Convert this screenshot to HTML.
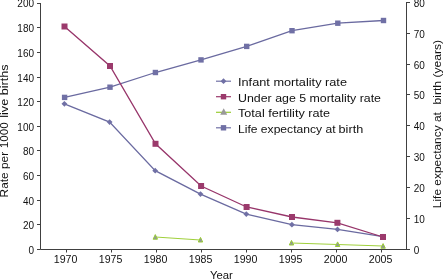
<!DOCTYPE html>
<html><head><meta charset="utf-8"><style>
html,body{margin:0;padding:0;background:#fff;width:443px;height:280px;overflow:hidden}
svg{display:block;will-change:transform}
.t{font-family:"Liberation Sans",sans-serif;font-size:10px;fill:#111111}
.l{font-family:"Liberation Sans",sans-serif;font-size:11px;fill:#111111}
</style></head><body>
<svg width="443" height="280" viewBox="0 0 443 280">
<path d="M40.5 3V249.5H407M406.5 2V249.5" fill="none" stroke="#404040" stroke-width="1"/>
<path d="M37 249.50H40.5" stroke="#404040" stroke-width="1"/>
<text x="34" y="254.30" text-anchor="end" class="t" textLength="5.55" lengthAdjust="spacingAndGlyphs">0</text>
<path d="M37 224.50H40.5" stroke="#404040" stroke-width="1"/>
<text x="34" y="229.30" text-anchor="end" class="t" textLength="11.10" lengthAdjust="spacingAndGlyphs">20</text>
<path d="M37 200.50H40.5" stroke="#404040" stroke-width="1"/>
<text x="34" y="205.30" text-anchor="end" class="t" textLength="11.10" lengthAdjust="spacingAndGlyphs">40</text>
<path d="M37 175.50H40.5" stroke="#404040" stroke-width="1"/>
<text x="34" y="180.30" text-anchor="end" class="t" textLength="11.10" lengthAdjust="spacingAndGlyphs">60</text>
<path d="M37 150.50H40.5" stroke="#404040" stroke-width="1"/>
<text x="34" y="155.30" text-anchor="end" class="t" textLength="11.10" lengthAdjust="spacingAndGlyphs">80</text>
<path d="M37 126.50H40.5" stroke="#404040" stroke-width="1"/>
<text x="34" y="131.30" text-anchor="end" class="t" textLength="16.65" lengthAdjust="spacingAndGlyphs">100</text>
<path d="M37 101.50H40.5" stroke="#404040" stroke-width="1"/>
<text x="34" y="106.30" text-anchor="end" class="t" textLength="16.65" lengthAdjust="spacingAndGlyphs">120</text>
<path d="M37 77.50H40.5" stroke="#404040" stroke-width="1"/>
<text x="34" y="82.30" text-anchor="end" class="t" textLength="16.65" lengthAdjust="spacingAndGlyphs">140</text>
<path d="M37 52.50H40.5" stroke="#404040" stroke-width="1"/>
<text x="34" y="57.30" text-anchor="end" class="t" textLength="16.65" lengthAdjust="spacingAndGlyphs">160</text>
<path d="M37 27.50H40.5" stroke="#404040" stroke-width="1"/>
<text x="34" y="32.30" text-anchor="end" class="t" textLength="16.65" lengthAdjust="spacingAndGlyphs">180</text>
<path d="M37 3.50H40.5" stroke="#404040" stroke-width="1"/>
<text x="34" y="7.00" text-anchor="end" class="t" textLength="16.65" lengthAdjust="spacingAndGlyphs">200</text>
<path d="M406.5 249.50H410" stroke="#404040" stroke-width="1"/>
<text x="413.8" y="254.10" class="t" textLength="5.55" lengthAdjust="spacingAndGlyphs">0</text>
<path d="M406.5 218.50H410" stroke="#404040" stroke-width="1"/>
<text x="413.8" y="223.10" class="t" textLength="11.10" lengthAdjust="spacingAndGlyphs">10</text>
<path d="M406.5 187.50H410" stroke="#404040" stroke-width="1"/>
<text x="413.8" y="192.10" class="t" textLength="11.10" lengthAdjust="spacingAndGlyphs">20</text>
<path d="M406.5 156.50H410" stroke="#404040" stroke-width="1"/>
<text x="413.8" y="161.10" class="t" textLength="11.10" lengthAdjust="spacingAndGlyphs">30</text>
<path d="M406.5 125.50H410" stroke="#404040" stroke-width="1"/>
<text x="413.8" y="130.10" class="t" textLength="11.10" lengthAdjust="spacingAndGlyphs">40</text>
<path d="M406.5 94.50H410" stroke="#404040" stroke-width="1"/>
<text x="413.8" y="99.10" class="t" textLength="11.10" lengthAdjust="spacingAndGlyphs">50</text>
<path d="M406.5 64.50H410" stroke="#404040" stroke-width="1"/>
<text x="413.8" y="69.10" class="t" textLength="11.10" lengthAdjust="spacingAndGlyphs">60</text>
<path d="M406.5 33.50H410" stroke="#404040" stroke-width="1"/>
<text x="413.8" y="38.10" class="t" textLength="11.10" lengthAdjust="spacingAndGlyphs">70</text>
<path d="M406.5 2.50H410" stroke="#404040" stroke-width="1"/>
<text x="413.8" y="7.10" class="t" textLength="11.10" lengthAdjust="spacingAndGlyphs">80</text>
<path d="M66.50 249.5V252.5" stroke="#404040" stroke-width="1"/>
<text x="65.60" y="262.8" text-anchor="middle" class="t" textLength="23.6" lengthAdjust="spacingAndGlyphs">1970</text>
<path d="M111.50 249.5V252.5" stroke="#404040" stroke-width="1"/>
<text x="110.60" y="262.8" text-anchor="middle" class="t" textLength="23.6" lengthAdjust="spacingAndGlyphs">1975</text>
<path d="M156.50 249.5V252.5" stroke="#404040" stroke-width="1"/>
<text x="155.60" y="262.8" text-anchor="middle" class="t" textLength="23.6" lengthAdjust="spacingAndGlyphs">1980</text>
<path d="M201.50 249.5V252.5" stroke="#404040" stroke-width="1"/>
<text x="200.60" y="262.8" text-anchor="middle" class="t" textLength="23.6" lengthAdjust="spacingAndGlyphs">1985</text>
<path d="M246.50 249.5V252.5" stroke="#404040" stroke-width="1"/>
<text x="245.60" y="262.8" text-anchor="middle" class="t" textLength="23.6" lengthAdjust="spacingAndGlyphs">1990</text>
<path d="M291.50 249.5V252.5" stroke="#404040" stroke-width="1"/>
<text x="290.60" y="262.8" text-anchor="middle" class="t" textLength="23.6" lengthAdjust="spacingAndGlyphs">1995</text>
<path d="M336.50 249.5V252.5" stroke="#404040" stroke-width="1"/>
<text x="335.60" y="262.8" text-anchor="middle" class="t" textLength="23.6" lengthAdjust="spacingAndGlyphs">2000</text>
<path d="M381.50 249.5V252.5" stroke="#404040" stroke-width="1"/>
<text x="380.60" y="262.8" text-anchor="middle" class="t" textLength="23.6" lengthAdjust="spacingAndGlyphs">2005</text>
<polyline points="64.6,97.4 110,87.2 155.4,72.5 201,59.9 246.7,46.4 292,30.7 337.8,23.2 383.5,20.5" fill="none" stroke="#6a6aa0" stroke-width="1.3"/>
<polyline points="64.4,103.8 109.6,122.1 155.2,170.7 200.5,194.1 246.3,214.1 291.9,224.7 337.5,229.4 383,236.6" fill="none" stroke="#6a6aa0" stroke-width="1.3"/>
<polyline points="64.5,26.5 110,66 155.5,143.8 201.1,186 246.6,207 292,217 337.4,222.8 383,237" fill="none" stroke="#97356a" stroke-width="1.3"/>
<polyline points="155.3,237.1 200.5,239.9" fill="none" stroke="#a0d03c" stroke-width="1.05"/>
<polyline points="291.5,242.9 337.6,244.4 383.1,246.1" fill="none" stroke="#a0d03c" stroke-width="1.05"/>
<rect x="61.90" y="94.70" width="5.4" height="5.4" fill="#7070a5"/>
<rect x="107.30" y="84.50" width="5.4" height="5.4" fill="#7070a5"/>
<rect x="152.70" y="69.80" width="5.4" height="5.4" fill="#7070a5"/>
<rect x="198.30" y="57.20" width="5.4" height="5.4" fill="#7070a5"/>
<rect x="244.00" y="43.70" width="5.4" height="5.4" fill="#7070a5"/>
<rect x="289.30" y="28.00" width="5.4" height="5.4" fill="#7070a5"/>
<rect x="335.10" y="20.50" width="5.4" height="5.4" fill="#7070a5"/>
<rect x="380.80" y="17.80" width="5.4" height="5.4" fill="#7070a5"/>
<path d="M64.4 100.89999999999999L67.30000000000001 103.8L64.4 106.7L61.50000000000001 103.8Z" fill="#7070a5"/>
<path d="M109.6 119.19999999999999L112.5 122.1L109.6 125.0L106.69999999999999 122.1Z" fill="#7070a5"/>
<path d="M155.2 167.79999999999998L158.1 170.7L155.2 173.6L152.29999999999998 170.7Z" fill="#7070a5"/>
<path d="M200.5 191.2L203.4 194.1L200.5 197.0L197.6 194.1Z" fill="#7070a5"/>
<path d="M246.3 211.2L249.20000000000002 214.1L246.3 217.0L243.4 214.1Z" fill="#7070a5"/>
<path d="M291.9 221.79999999999998L294.79999999999995 224.7L291.9 227.6L289.0 224.7Z" fill="#7070a5"/>
<path d="M337.5 226.5L340.4 229.4L337.5 232.3L334.6 229.4Z" fill="#7070a5"/>
<path d="M383 233.7L385.9 236.6L383 239.5L380.1 236.6Z" fill="#7070a5"/>
<rect x="61.50" y="23.50" width="6" height="6" fill="#9b3a6c"/>
<rect x="107.00" y="63.00" width="6" height="6" fill="#9b3a6c"/>
<rect x="152.50" y="140.80" width="6" height="6" fill="#9b3a6c"/>
<rect x="198.10" y="183.00" width="6" height="6" fill="#9b3a6c"/>
<rect x="243.60" y="204.00" width="6" height="6" fill="#9b3a6c"/>
<rect x="289.00" y="214.00" width="6" height="6" fill="#9b3a6c"/>
<rect x="334.40" y="219.80" width="6" height="6" fill="#9b3a6c"/>
<rect x="380.00" y="234.00" width="6" height="6" fill="#9b3a6c"/>
<path d="M155.3 234.6L157.5 239.2L153.10000000000002 239.2Z" fill="#9090a8" stroke="#99cc33" stroke-width="1.0" stroke-linejoin="miter"/>
<path d="M200.5 237.4L202.7 242.0L198.3 242.0Z" fill="#9090a8" stroke="#99cc33" stroke-width="1.0" stroke-linejoin="miter"/>
<path d="M291.5 240.4L293.7 245.0L289.3 245.0Z" fill="#9090a8" stroke="#99cc33" stroke-width="1.0" stroke-linejoin="miter"/>
<path d="M337.6 241.9L339.8 246.5L335.40000000000003 246.5Z" fill="#9090a8" stroke="#99cc33" stroke-width="1.0" stroke-linejoin="miter"/>
<path d="M383.1 243.6L385.3 248.2L380.90000000000003 248.2Z" fill="#9090a8" stroke="#99cc33" stroke-width="1.0" stroke-linejoin="miter"/>
<path d="M216 81.19999999999999H231" stroke="#7070a5" stroke-width="1.2"/>
<path d="M223.5 78.29999999999998L226.4 81.19999999999999L223.5 84.1L220.6 81.19999999999999Z" fill="#7070a5"/>
<text x="238" y="86.0" class="l" textLength="109" lengthAdjust="spacingAndGlyphs">Infant mortality rate</text>
<path d="M216 96.69999999999999H231" stroke="#9b3a6c" stroke-width="1.2"/>
<rect x="220.80" y="94.00" width="5.4" height="5.4" fill="#9b3a6c"/>
<text x="238" y="101.5" class="l" textLength="143" lengthAdjust="spacingAndGlyphs">Under age 5 mortality rate</text>
<path d="M216 112.3H231" stroke="#99cc33" stroke-width="1.2"/>
<path d="M223.7 108.3L227.2 114.8L220.2 114.8Z" fill="#999999"/>
<text x="238" y="117.10000000000001" class="l" textLength="92" lengthAdjust="spacingAndGlyphs">Total fertility rate</text>
<path d="M216 127.79999999999998H231" stroke="#7070a5" stroke-width="1.2"/>
<rect x="220.80" y="125.10" width="5.4" height="5.4" fill="#7070a5"/>
<text x="238" y="132.6" class="l" textLength="97.5" lengthAdjust="spacingAndGlyphs">Life expectancy at</text>
<text x="338.6" y="132.6" class="l" textLength="24.6" lengthAdjust="spacingAndGlyphs">birth</text>
<text transform="translate(8.0 174.65) rotate(-90)" text-anchor="middle" class="l" textLength="45.5" lengthAdjust="spacingAndGlyphs">Rate per</text>
<text transform="translate(8.0 135.3) rotate(-90)" text-anchor="middle" class="l" textLength="26" lengthAdjust="spacingAndGlyphs">1000</text>
<text transform="translate(8.0 91.1) rotate(-90)" text-anchor="middle" class="l" textLength="53.3" lengthAdjust="spacingAndGlyphs">live births</text>
<text transform="translate(441.0 160.15) rotate(-90)" text-anchor="middle" class="l" textLength="96" lengthAdjust="spacingAndGlyphs">Life expectancy at</text>
<text transform="translate(441.0 72.25) rotate(-90)" text-anchor="middle" class="l" textLength="64.5" lengthAdjust="spacingAndGlyphs">birth (years)</text>
<text x="221.4" y="279.2" text-anchor="middle" class="l" textLength="22.8" lengthAdjust="spacingAndGlyphs">Year</text>
</svg>
</body></html>
